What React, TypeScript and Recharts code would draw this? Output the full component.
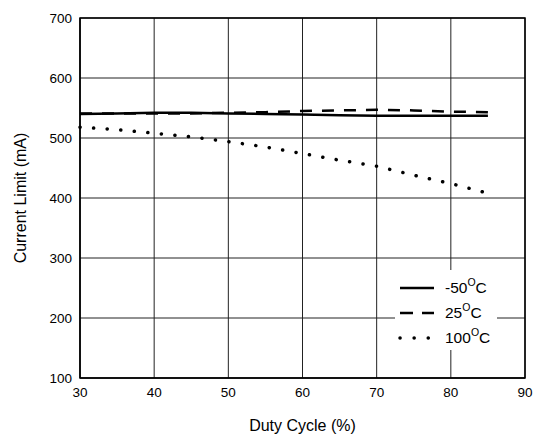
import { LineChart, Line, XAxis, YAxis, CartesianGrid, Legend, ReferenceArea } from 'recharts';

const dutyCycle = [30, 35, 40, 45, 50, 55, 60, 65, 70, 75, 80, 85];
const minus50 = [540, 541, 542, 542, 541, 540, 539, 538, 537, 537, 537, 537];
const plus25 = [541, 541, 541, 541, 542, 543, 545, 546, 547, 546, 544, 543];
const plus100 = [518, 514, 508, 502, 494, 485, 474, 463, 453, 438, 424, 408];

const xTicks = [30, 40, 50, 60, 70, 80, 90];
const yTicks = [100, 200, 300, 400, 500, 600, 700];

const data = dutyCycle.map((d, i) => ({
  duty: d,
  m50: minus50[i],
  p25: plus25[i],
  p100: plus100[i],
}));

const font = '"Liberation Sans", Arial, sans-serif';

const legendItems = [
  { label: '-50', dash: undefined as string | undefined, cap: 'butt' },
  { label: '25', dash: '13 9', cap: 'butt' },
  { label: '100', dash: '0.1 14', cap: 'round' },
];

function TempLegend() {
  return (
    <div style={{ position: 'relative', background: 'white', width: 102, height: 80, fontFamily: font, fontSize: 15.5, color: '#000' }}>
      {legendItems.map((it, i) => (
        <div key={i} style={{ position: 'absolute', left: 0, top: 8 + i * 25, height: 20, display: 'flex', alignItems: 'center' }}>
          <svg width={50} height={20}>
            <line x1={5} y1={10} x2={39} y2={10} stroke="#000" strokeWidth={i == 2 ? 3.5 : 2.5}
              strokeDasharray={it.dash} strokeLinecap={it.cap as any} />
          </svg>
          <span>
            {it.label}
            <sup style={{ fontSize: 10.5, verticalAlign: 0, position: 'relative', top: -7 }}>O</sup>C
          </span>
        </div>
      ))}
    </div>
  );
}

export default function App() {
  return (
    <div style={{ position: 'absolute', left: 0, top: 0, background: 'white' }}>
      <LineChart width={537} height={434} data={data} margin={{ top: 18, right: 12, left: 0, bottom: 0 }}>
        <CartesianGrid stroke="#222" strokeWidth={1} />
        <XAxis
          dataKey="duty"
          type="number"
          domain={[30, 90]}
          ticks={xTicks}
          height={56}
          tickLine={false}
          tickMargin={3}
          axisLine={{ stroke: '#000' }}
          tick={{ fill: '#000', fontSize: 13.5, fontFamily: font }}
          label={{ value: 'Duty Cycle (%)', position: 'insideBottom', offset: 3, style: { fill: '#000', fontSize: 16, fontFamily: font } }}
        />
        <YAxis
          type="number"
          domain={[100, 700]}
          ticks={yTicks}
          width={80}
          tickLine={false}
          axisLine={{ stroke: '#000' }}
          tick={{ fill: '#000', fontSize: 13.5, fontFamily: font }}
          label={{ value: 'Current Limit (mA)', angle: -90, position: 'insideLeft', offset: 20, style: { textAnchor: 'middle', fill: '#000', fontSize: 16, fontFamily: font } }}
        />
        <ReferenceArea x1={30} x2={90} y1={100} y2={700} fill="none" stroke="#000" strokeWidth={1.5} ifOverflow="visible" />
        <Line dataKey="m50" stroke="#000" strokeWidth={2.5} dot={false} isAnimationActive={false} type="linear" />
        <Line dataKey="p25" stroke="#000" strokeWidth={2.5} strokeDasharray="12 10" dot={false} isAnimationActive={false} type="linear" />
        <Line dataKey="p100" stroke="#000" strokeWidth={3.5} strokeDasharray="0.1 13.5" strokeLinecap="round" dot={false} isAnimationActive={false} type="linear" />
        <Legend
          layout="vertical"
          align="center"
          verticalAlign="middle"
          content={() => <TempLegend />}
          wrapperStyle={{ position: 'absolute', left: 395, top: 270, width: 102, height: 80 }}
        />
      </LineChart>
    </div>
  );
}
